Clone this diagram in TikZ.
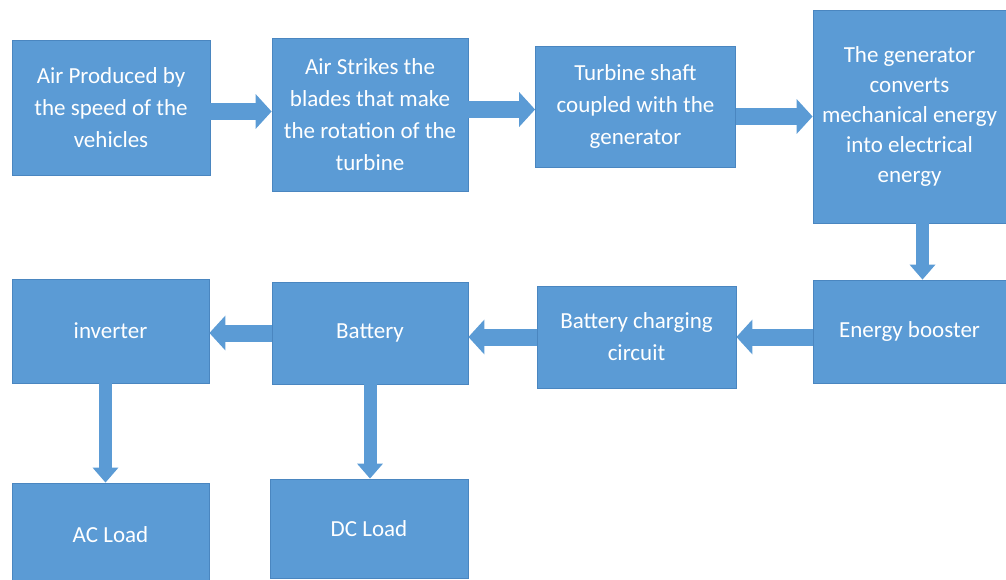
\documentclass[tikz,border=0pt]{standalone}
\usepackage{fontspec}
\setmainfont{Carlito}
\usetikzlibrary{arrows.meta}
\definecolor{boxblue}{HTML}{5B9BD5}
\definecolor{edgeblue}{HTML}{4A86C0}

\begin{document}
\begin{tikzpicture}[x=1pt,y=-1pt,
  blok/.style={draw=edgeblue,fill=boxblue,line width=0.8pt,text=white,align=center,
    inner sep=0pt,font=\fontsize{23}{32}\selectfont},
  flow/.style={boxblue,line width=17pt,-{Triangle[width=34pt,length=16pt]}},
  vflow/.style={boxblue,line width=13pt,-{Triangle[width=25pt,length=15pt]}}]
\useasboundingbox (0,0) rectangle (1006,580);
%top row
\node [blok,minimum width=198,minimum height=135] (air) at (111,107.5)
  {Air Produced by\\the speed of the\\vehicles};
\node [blok,minimum width=196,minimum height=153] (strike) at (370,114.5)
  {Air Strikes the\\blades that make\\the rotation of the\\turbine};
\node [blok,minimum width=200,minimum height=121] (shaft) at (635.5,106.5)
  {Turbine shaft\\coupled with the\\generator};
\node [blok,minimum width=193,minimum height=213,font=\fontsize{23}{30}\selectfont] (gen) at (909.5,116.5)
  {The generator\\converts\\mechanical energy\\into electrical\\energy};
%middle row
\node [blok,minimum width=193,minimum height=103] (boost) at (909.5,331.5) {Energy booster};
\node [blok,minimum width=199,minimum height=102] (chg) at (636.5,337)
  {Battery charging\\circuit};
\node [blok,minimum width=196,minimum height=102] (bat) at (370,333) {Battery};
\node [blok,minimum width=197,minimum height=104] (inv) at (110.5,331) {inverter};
%loads
\node [blok,minimum width=197,minimum height=104] (ac) at (110.5,535) {AC Load};
\node [blok,minimum width=198,minimum height=99] (dc) at (369,528.5) {DC Load};

\draw [flow] ([yshift=3]air.east |- strike.west) -- ([yshift=3]strike.west);
\draw [flow] ([yshift=5]strike.east) -- ([yshift=5]strike.east -| shaft.west);
\draw [flow] (shaft.east |- gen.west) -- (gen.west);
\draw [vflow] ([xshift=13]gen.south) -- ([xshift=13]gen.south |- boost.north);
\draw [flow] (boost.west |- chg.east) -- (chg.east);
\draw [flow] (chg.west) -- (chg.west -| bat.east);
\draw [flow] (bat.west) -- (bat.west -| inv.east);
\draw [vflow] ([xshift=-5]inv.south) -- ([xshift=-5]inv.south |- ac.north);
\draw [vflow] (bat.south) -- (bat.south |- dc.north);
\end{tikzpicture}
\end{document}
